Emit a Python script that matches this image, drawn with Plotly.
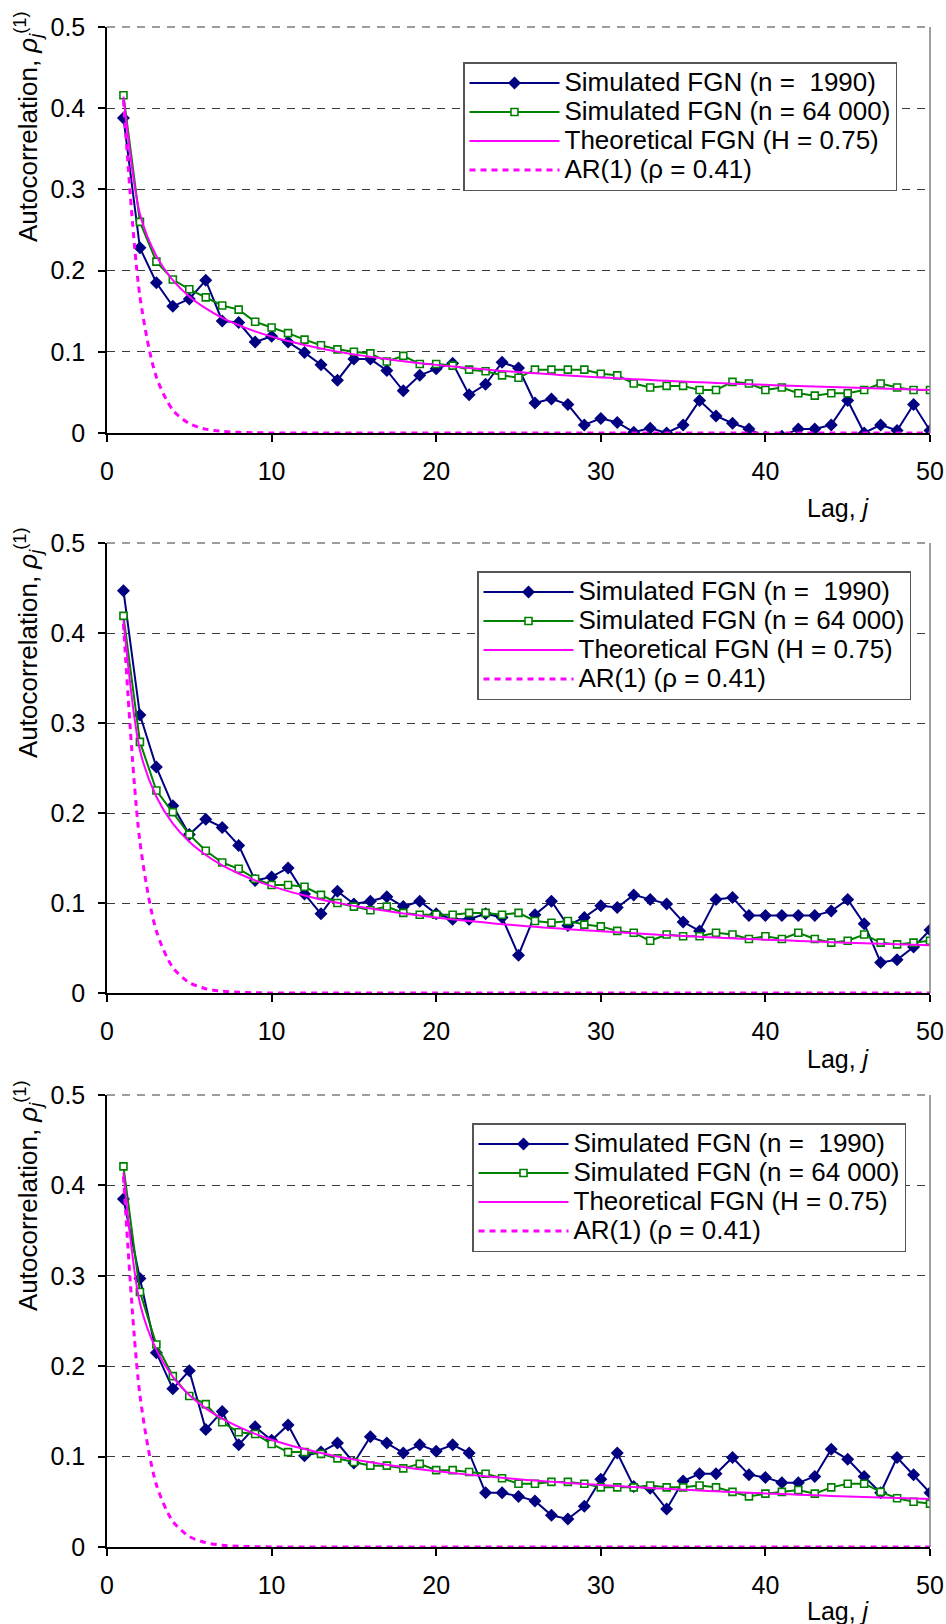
import plotly.graph_objects as go

# ---------------- data ----------------
lags = list(range(1, 51))

theoretical_fgn = [0.4142, 0.2697, 0.2181, 0.1883, 0.1681, 0.1534, 0.1419, 0.1328, 0.1251, 0.1187,
                   0.1132, 0.1084, 0.1040, 0.1002, 0.0968, 0.0938, 0.0910, 0.0884, 0.0860, 0.0839,
                   0.0818, 0.0800, 0.0782, 0.0765, 0.0750, 0.0735, 0.0722, 0.0709, 0.0696, 0.0685,
                   0.0674, 0.0663, 0.0653, 0.0643, 0.0634, 0.0625, 0.0616, 0.0608, 0.0600, 0.0593,
                   0.0586, 0.0579, 0.0572, 0.0565, 0.0559, 0.0553, 0.0547, 0.0541, 0.0536, 0.0530]

ar1 = [0.4100, 0.1681, 0.0689, 0.0283, 0.0116, 0.0048, 0.0020, 0.0008, 0.0003, 0.0001,
       0.0001, 0.0000, 0.0000, 0.0000, 0.0000, 0.0000, 0.0000, 0.0000, 0.0000, 0.0000,
       0.0000, 0.0000, 0.0000, 0.0000, 0.0000, 0.0000, 0.0000, 0.0000, 0.0000, 0.0000,
       0.0000, 0.0000, 0.0000, 0.0000, 0.0000, 0.0000, 0.0000, 0.0000, 0.0000, 0.0000,
       0.0000, 0.0000, 0.0000, 0.0000, 0.0000, 0.0000, 0.0000, 0.0000, 0.0000, 0.0000]

p1_n1990 = [0.388, 0.228, 0.185, 0.156, 0.165, 0.188, 0.138, 0.136, 0.112, 0.119,
            0.112, 0.099, 0.084, 0.065, 0.091, 0.091, 0.077, 0.052, 0.071, 0.079,
            0.086, 0.047, 0.060, 0.087, 0.080, 0.037, 0.042, 0.035, 0.010, 0.018,
            0.013, 0.001, 0.006, 0.000, 0.010, 0.040, 0.021, 0.012, 0.005, -0.005,
            -0.004, 0.005, 0.005, 0.010, 0.040, 0.000, 0.010, 0.003, 0.035, 0.003]
p1_n64000 = [0.416, 0.260, 0.211, 0.189, 0.177, 0.167, 0.157, 0.152, 0.137, 0.130,
             0.123, 0.115, 0.108, 0.103, 0.100, 0.098, 0.088, 0.095, 0.085, 0.085,
             0.083, 0.078, 0.076, 0.071, 0.068, 0.078, 0.078, 0.078, 0.078, 0.073,
             0.071, 0.061, 0.056, 0.058, 0.058, 0.053, 0.053, 0.063, 0.061, 0.053,
             0.056, 0.049, 0.046, 0.049, 0.049, 0.053, 0.061, 0.056, 0.053, 0.053]

p2_n1990 = [0.447, 0.309, 0.251, 0.208, 0.176, 0.193, 0.184, 0.164, 0.125, 0.129,
            0.139, 0.110, 0.088, 0.113, 0.099, 0.102, 0.107, 0.096, 0.102, 0.088,
            0.082, 0.082, 0.088, 0.084, 0.042, 0.087, 0.102, 0.075, 0.084, 0.097,
            0.095, 0.109, 0.104, 0.099, 0.079, 0.069, 0.104, 0.106, 0.086, 0.086,
            0.086, 0.086, 0.086, 0.091, 0.104, 0.077, 0.034, 0.037, 0.051, 0.070]
p2_n64000 = [0.419, 0.279, 0.225, 0.201, 0.176, 0.158, 0.145, 0.138, 0.127, 0.120,
             0.120, 0.118, 0.109, 0.100, 0.096, 0.092, 0.096, 0.089, 0.087, 0.087,
             0.087, 0.089, 0.089, 0.087, 0.089, 0.080, 0.078, 0.080, 0.076, 0.074,
             0.069, 0.067, 0.058, 0.065, 0.063, 0.063, 0.067, 0.065, 0.060, 0.063,
             0.060, 0.067, 0.060, 0.056, 0.058, 0.065, 0.056, 0.054, 0.056, 0.058]

p3_n1990 = [0.385, 0.297, 0.215, 0.175, 0.195, 0.130, 0.150, 0.113, 0.133, 0.118,
            0.135, 0.101, 0.105, 0.115, 0.093, 0.122, 0.115, 0.104, 0.113, 0.106,
            0.113, 0.104, 0.060, 0.060, 0.056, 0.051, 0.035, 0.031, 0.045, 0.075,
            0.104, 0.067, 0.065, 0.042, 0.073, 0.081, 0.081, 0.099, 0.080, 0.077,
            0.071, 0.071, 0.078, 0.108, 0.097, 0.078, 0.060, 0.099, 0.080, 0.060]
p3_n64000 = [0.421, 0.282, 0.224, 0.189, 0.167, 0.158, 0.138, 0.127, 0.125, 0.114,
             0.105, 0.105, 0.103, 0.098, 0.094, 0.090, 0.090, 0.087, 0.092, 0.085,
             0.085, 0.083, 0.081, 0.076, 0.070, 0.070, 0.072, 0.072, 0.070, 0.066,
             0.066, 0.066, 0.068, 0.066, 0.066, 0.068, 0.066, 0.061, 0.056, 0.059,
             0.061, 0.063, 0.059, 0.066, 0.070, 0.070, 0.061, 0.054, 0.050, 0.048]

series_names = ["Simulated FGN (n =  1990)", "Simulated FGN (n = 64 000)",
                "Theoretical FGN (H = 0.75)", "AR(1) (\u03c1 = 0.41)"]
x_ticks = [0, 10, 20, 30, 40, 50]
y_ticks = [0, 0.1, 0.2, 0.3, 0.4, 0.5]
y_ticktext = ["0", "0.1", "0.2", "0.3", "0.4", "0.5"]

panels = [(p1_n1990, p1_n64000), (p2_n1990, p2_n64000), (p3_n1990, p3_n64000)]

# ---------------- layout geometry (pixels) ----------------
W, H = 946, 1624
FONT = "Liberation Sans, Arial, sans-serif"
plot_left, plot_right = 107, 930
panel_tops = [27, 543, 1095]
panel_bottoms = [433, 993, 1547]
legend_pos = [(463, 62), (477, 571), (472, 1123)]
ytitle_center = [127, 643, 1196]
xtitle_center = [508, 1059, 1611]
ytitle_x, xtitle_x = 28, 838


def legend_label(name):
    # larger visible text while keeping compact legend rows
    return '<span style="font-size:26px">' + name + "</span>"


fig = go.Figure()

for i, (s1990, s64000) in enumerate(panels):
    k = "" if i == 0 else str(i + 1)
    xa, ya = "x" + k, "y" + k
    lg = "legend" + k
    fig.add_trace(go.Scatter(x=lags, y=s1990, name=legend_label(series_names[0]),
                             xaxis=xa, yaxis=ya, legend=lg,
                             mode="lines+markers", line=dict(color="#000080", width=2),
                             marker=dict(symbol="diamond", size=10, color="#000080")))
    fig.add_trace(go.Scatter(x=lags, y=s64000, name=legend_label(series_names[1]),
                             xaxis=xa, yaxis=ya, legend=lg,
                             mode="lines+markers", line=dict(color="#008000", width=2),
                             marker=dict(symbol="square", size=7, color="white",
                                         line=dict(color="#008000", width=1.6))))
    fig.add_trace(go.Scatter(x=lags, y=theoretical_fgn, name=legend_label(series_names[2]),
                             xaxis=xa, yaxis=ya, legend=lg, mode="lines",
                             line=dict(color="#FF00FF", width=2, shape="spline", smoothing=0.8)))
    fig.add_trace(go.Scatter(x=lags, y=ar1, name=legend_label(series_names[3]),
                             xaxis=xa, yaxis=ya, legend=lg, mode="lines",
                             line=dict(color="#FF00FF", width=3, dash="6px,5px",
                                       shape="spline", smoothing=0.8)))

    top, bot = panel_tops[i], panel_bottoms[i]
    ph = bot - top
    pw = plot_right - plot_left
    fig.layout["xaxis" + k] = dict(
        domain=[plot_left / W, plot_right / W], anchor=ya, range=[0, 50],
        tickvals=x_ticks, ticks="outside", ticklen=7, tickwidth=1.5, tickcolor="black",
        showline=True, linecolor="black", linewidth=1.5, showgrid=False, zeroline=False,
        tickfont=dict(family=FONT, size=25, color="black"), ticklabelstandoff=8,
        layer="below traces", automargin=False)
    fig.layout["yaxis" + k] = dict(
        domain=[(H - bot) / H, (H - top) / H], anchor=xa, range=[0, 0.5],
        tickvals=y_ticks, ticktext=y_ticktext,
        ticks="outside", ticklen=7, tickwidth=1.5, tickcolor="black",
        showline=True, linecolor="black", linewidth=1.5, zeroline=False,
        showgrid=True, gridcolor="#3a3a3a", gridwidth=1, griddash="8px,7px",
        tickfont=dict(family=FONT, size=25, color="black"), ticklabelstandoff=8,
        layer="below traces", automargin=False)
    lx, ly = legend_pos[i]
    fig.layout[lg] = dict(
        x=lx / W, y=(H - ly) / H, xanchor="left", yanchor="top", xref="paper", yref="paper",
        bgcolor="white", bordercolor="#555555", borderwidth=1.5,
        font=dict(family=FONT, size=20, color="black"), itemwidth=90, tracegroupgap=0)

    # right border and dashed top edge of plot area
    fig.add_shape(type="line", xref=xa + " domain", yref=ya + " domain",
                  x0=1, x1=1, y0=0, y1=1, line=dict(color="#808080", width=1.5))
    fig.add_shape(type="line", xref=xa + " domain", yref=ya + " domain",
                  x0=0, x1=1, y0=1, y1=1, line=dict(color="#3a3a3a", width=1, dash="8px,7px"))
    # axis titles (referenced to the axis domains so they do not push margins)
    fig.add_annotation(text="Autocorrelation, <i>\u03c1<sub>j</sub></i><sup>(1)</sup>",
                       xref=xa + " domain", yref=ya + " domain",
                       x=(ytitle_x - plot_left) / pw, y=(bot - ytitle_center[i]) / ph,
                       xanchor="center", yanchor="middle", textangle=-90, showarrow=False,
                       font=dict(family=FONT, size=26, color="black"))
    fig.add_annotation(text="Lag, <i>j</i>", xref=xa + " domain", yref=ya + " domain",
                       x=(xtitle_x - plot_left) / pw, y=(bot - xtitle_center[i]) / ph,
                       xanchor="center", yanchor="middle", showarrow=False,
                       font=dict(family=FONT, size=25, color="black"))

fig.update_layout(width=W, height=H, margin=dict(l=0, r=0, t=0, b=0, autoexpand=False),
                  paper_bgcolor="white", plot_bgcolor="white", showlegend=True)

fig.write_html("out.html")
